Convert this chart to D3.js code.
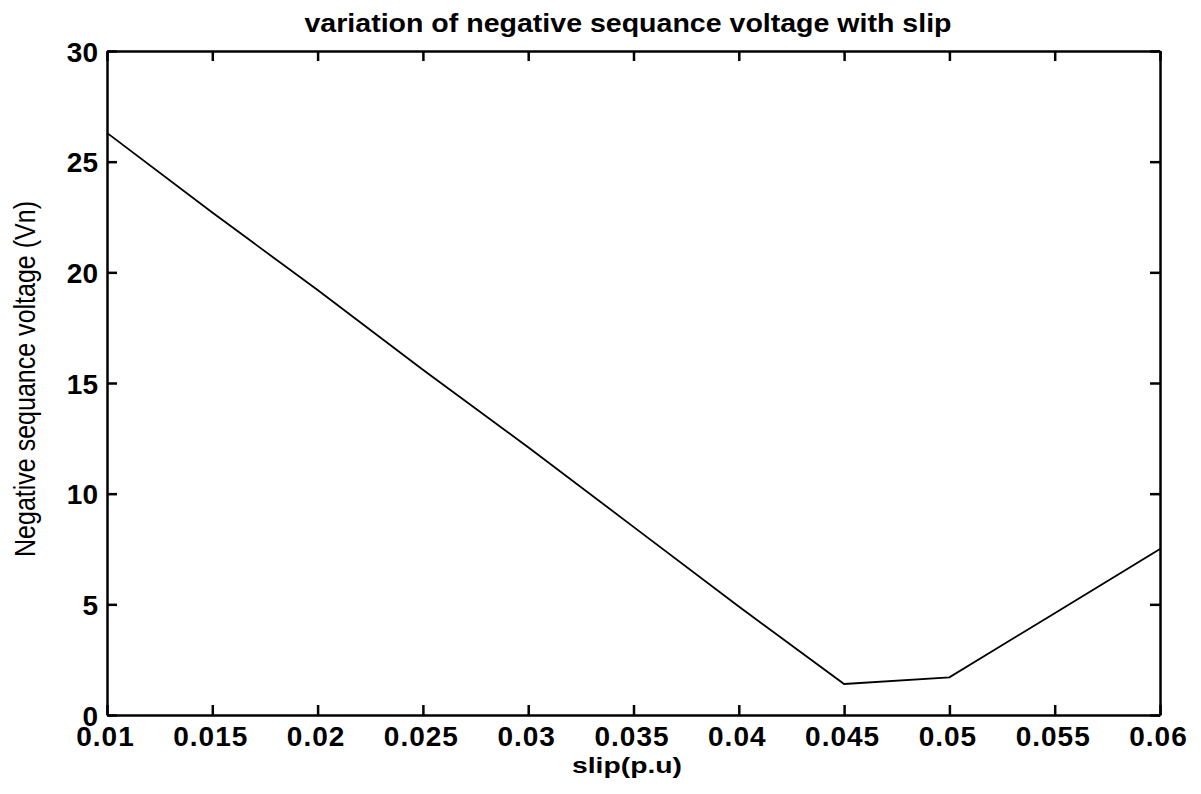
<!DOCTYPE html>
<html>
<head>
<meta charset="utf-8">
<script src="https://cdn.jsdelivr.net/npm/d3@7"></script>
<style>
  html, body { margin: 0; padding: 0; background: #fff; }
  svg { display: block; font-family: "Liberation Sans", Arial, sans-serif; }
</style>
</head>
<body>
<svg id="chart" width="1201" height="794"></svg>
<script>
// slip (p.u) and negative sequence voltage
const slip = [0.01, 0.015, 0.02, 0.025, 0.03, 0.035, 0.04, 0.045, 0.05, 0.055, 0.06];
const vn = [26.3, 22.7, 19.2, 15.6, 12.1, 8.5, 4.9, 1.4, 1.7, 4.6, 7.5];
const xTicks = [0.01, 0.015, 0.02, 0.025, 0.03, 0.035, 0.04, 0.045, 0.05, 0.055, 0.06];
const yTicks = [0, 5, 10, 15, 20, 25, 30];

(function() {
  const svg = d3.select("#chart");
  const margin = {left: 107, top: 51, right: 1160, bottom: 715};

  const x = d3.scaleLinear().domain([0.01, 0.06]).range([margin.left, margin.right]);
  const y = d3.scaleLinear().domain([0, 30]).range([margin.bottom, margin.top]);

  const fmt = d => String(+d.toFixed(3));
  const tickLen = 10;

  // axes, ticks point inward like matlab
  const axBottom = svg.append("g").attr("transform", `translate(0,${margin.bottom})`)
    .call(d3.axisBottom(x).tickValues(xTicks).tickSizeInner(-tickLen).tickSizeOuter(0).tickFormat(fmt));
  const axTop = svg.append("g").attr("transform", `translate(0,${margin.top})`)
    .call(d3.axisTop(x).tickValues(xTicks).tickSizeInner(-tickLen).tickSizeOuter(0).tickFormat(""));
  const axLeft = svg.append("g").attr("transform", `translate(${margin.left},0)`)
    .call(d3.axisLeft(y).tickValues(yTicks).tickSizeInner(-tickLen).tickSizeOuter(0).tickFormat(d3.format("d")));
  const axRight = svg.append("g").attr("transform", `translate(${margin.right},0)`)
    .call(d3.axisRight(y).tickValues(yTicks).tickSizeInner(-tickLen).tickSizeOuter(0).tickFormat(""));

  [axBottom, axTop, axLeft, axRight].forEach(g => {
    g.select(".domain").attr("stroke", "#000").attr("stroke-width", 2.5);
    g.selectAll(".tick line").attr("stroke", "#000").attr("stroke-width", 2.5);
    g.selectAll(".tick text").attr("fill", "#000")
      .attr("font-family", "'Liberation Sans', Arial, sans-serif")
      .attr("font-weight", "bold").attr("font-size", 28);
  });

  axBottom.selectAll(".tick text").attr("y", 31).attr("dy", 0).attr("x", -2)
    .attr("letter-spacing", 1);
  axLeft.selectAll(".tick text").attr("x", -9).attr("dy", "0.36em");

  // the data line
  svg.append("path")
    .datum(slip.map((s, i) => [s, vn[i]]))
    .attr("fill", "none")
    .attr("stroke", "#000")
    .attr("stroke-width", 1.8)
    .attr("d", d3.line().x(d => x(d[0])).y(d => y(d[1])));

  // title and axis labels
  svg.append("text")
    .attr("x", 628).attr("y", 32)
    .attr("text-anchor", "middle")
    .attr("font-weight", "bold").attr("font-size", 26)
    .attr("textLength", 647).attr("lengthAdjust", "spacingAndGlyphs")
    .text("variation of negative sequance voltage with slip");

  svg.append("text")
    .attr("x", 627).attr("y", 773)
    .attr("text-anchor", "middle")
    .attr("font-weight", "bold").attr("font-size", 22)
    .attr("textLength", 110).attr("lengthAdjust", "spacingAndGlyphs")
    .text("slip(p.u)");

  svg.append("text")
    .attr("transform", "translate(35,379) rotate(-90)")
    .attr("text-anchor", "middle")
    .attr("font-size", 30)
    .attr("textLength", 356).attr("lengthAdjust", "spacingAndGlyphs")
    .text("Negative sequance voltage (Vn)");
})();
</script>
</body>
</html>
